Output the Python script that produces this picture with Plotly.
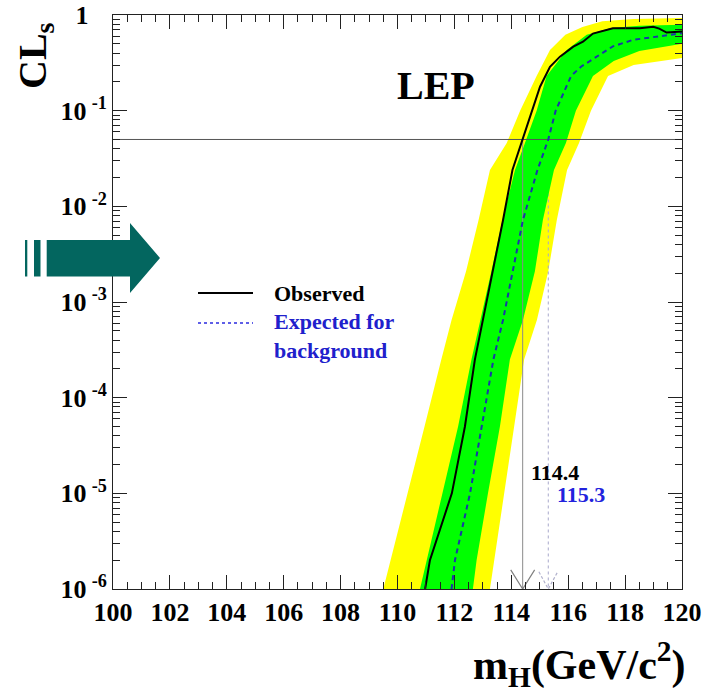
import math
import plotly.graph_objects as go

# ---------------- data ----------------
# 95% CL exclusion: CLs versus Higgs mass (GeV/c^2)
obs_mass = [110.97, 111.14, 111.91, 112.37, 112.72, 113.0, 113.36, 113.71, 114.04,
            114.4, 114.72, 115.01, 115.36, 115.71, 116.18, 116.52, 116.87, 117.12,
            117.57, 118.06, 118.52, 118.99, 119.2, 119.46, 119.93, 120.0]
obs_cls = [1.0e-6, 2.0e-6, 1.0e-5, 5.0e-5, 2.5e-4, 6.5e-4, 2.1e-3, 7.2e-3, 0.024,
           0.05, 0.10, 0.178, 0.288, 0.367, 0.466, 0.526, 0.64, 0.67,
           0.726, 0.726, 0.726, 0.755, 0.72, 0.655, 0.67, 0.672]

exp_mass = [111.9, 112.02, 112.55, 112.96, 113.37, 113.71, 114.06, 114.41, 114.92,
            115.3, 115.56, 116.1, 116.45, 117.0, 117.57, 118.28, 118.98, 120.0]
exp_cls = [1.0e-6, 2.0e-6, 1.0e-5, 5.0e-5, 2.5e-4, 6.5e-4, 2.1e-3, 7.2e-3, 0.024,
           0.05, 0.10, 0.23, 0.288, 0.367, 0.47, 0.55, 0.59, 0.645]

# +/-2 sigma band: high-CLs edge and low-CLs edge
band2_hi_mass = [109.5, 109.76, 110.36, 110.95, 111.54, 111.9, 112.41, 112.85, 113.25,
                 113.84, 114.31, 114.89, 115.36, 115.9, 116.5, 117.2, 118.3, 120.0]
band2_hi_cls = [1.0e-6, 2.0e-6, 1.0e-5, 5.0e-5, 2.5e-4, 6.5e-4, 2.1e-3, 7.2e-3, 0.024,
                0.046, 0.10, 0.23, 0.43, 0.62, 0.75, 0.86, 0.91, 0.93]
band2_lo_mass = [113.25, 113.38, 113.75, 114.1, 114.45, 114.9, 115.3, 115.6, 115.96,
                 116.38, 116.8, 117.4, 118.3, 120.0]
band2_lo_cls = [1.0e-6, 2.0e-6, 1.0e-5, 5.0e-5, 2.5e-4, 6.5e-4, 2.1e-3, 7.2e-3, 0.024,
                0.046, 0.10, 0.23, 0.30, 0.355]

# +/-1 sigma band
band1_hi_mass = [110.79, 111.03, 111.6, 112.13, 112.6, 112.92, 113.3, 113.69, 114.13,
                 114.48, 114.89, 115.24, 115.95, 116.65, 117.5, 118.5, 120.0]
band1_hi_cls = [1.0e-6, 2.0e-6, 1.0e-5, 5.0e-5, 2.5e-4, 6.5e-4, 2.1e-3, 7.2e-3, 0.024,
                0.046, 0.10, 0.23, 0.43, 0.62, 0.73, 0.77, 0.79]
band1_lo_mass = [112.65, 112.78, 113.18, 113.6, 113.95, 114.41, 114.83, 115.11, 115.5,
                 115.92, 116.27, 116.87, 117.6, 118.5, 120.0]
band1_lo_cls = [1.0e-6, 2.0e-6, 1.0e-5, 5.0e-5, 2.5e-4, 6.5e-4, 2.1e-3, 7.2e-3, 0.024,
                0.046, 0.10, 0.23, 0.33, 0.42, 0.50]

cl_level = 0.05
obs_limit = 114.4
exp_limit = 115.3

x_ticks = [100, 102, 104, 106, 108, 110, 112, 114, 116, 118, 120]
y_ticks = [1e-6, 1e-5, 1e-4, 1e-3, 1e-2, 1e-1, 1]
y_exponents = ["-6", "-5", "-4", "-3", "-2", "-1"]
y_ticktext = ["10\u2009<sup>%s</sup>" % e for e in y_exponents] + ["1\u2007\u2009"]

# ---------------- layout geometry (pixels) ----------------
W, H = 713, 694
L, R, T, B = 113, 682, 15, 589
SERIF = "Liberation Serif, Times New Roman, serif"


def px(x):
    return (x - L) / (R - L)


def py(y):
    return 1 - (y - T) / (B - T)


fig = go.Figure()

# bands: high edge going up, low edge coming back down
fig.add_trace(go.Scatter(
    x=band2_hi_mass + band2_lo_mass[::-1], y=band2_hi_cls + band2_lo_cls[::-1],
    fill="toself", fillcolor="#ffff00", line=dict(width=0), mode="lines",
    hoverinfo="skip", showlegend=False))

# expected-limit marker line sits under the green band
fig.add_trace(go.Scatter(
    x=[exp_limit, exp_limit], y=[cl_level, y_ticks[0]], mode="lines",
    line=dict(color="#a8a8cc", width=1, dash="3px,3px"), showlegend=False))

fig.add_trace(go.Scatter(
    x=band1_hi_mass + band1_lo_mass[::-1], y=band1_hi_cls + band1_lo_cls[::-1],
    fill="toself", fillcolor="#00ff00", line=dict(width=0), mode="lines",
    hoverinfo="skip", showlegend=False))

# CL = 0.05 reference line
fig.add_trace(go.Scatter(
    x=[x_ticks[0], x_ticks[-1]], y=[cl_level, cl_level], mode="lines",
    line=dict(color="#555555", width=1), showlegend=False))

# observed-limit marker line
fig.add_trace(go.Scatter(
    x=[obs_limit, obs_limit], y=[cl_level, y_ticks[0]], mode="lines",
    line=dict(color="#8a8a8a", width=1), showlegend=False))

# V-shaped arrow heads at the axis
bottom = y_ticks[0]
fig.add_trace(go.Scatter(
    x=[obs_limit - 0.42, obs_limit, obs_limit + 0.42],
    y=[bottom * 10 ** 0.2, bottom, bottom * 10 ** 0.2], mode="lines",
    line=dict(color="#808080", width=1.2), showlegend=False))
fig.add_trace(go.Scatter(
    x=[exp_limit - 0.33, exp_limit, exp_limit + 0.33],
    y=[bottom * 10 ** 0.18, bottom, bottom * 10 ** 0.18], mode="lines",
    line=dict(color="#b0b0cc", width=1.2, dash="3px,2px"), showlegend=False))

# expected and observed CLs
fig.add_trace(go.Scatter(
    x=exp_mass, y=exp_cls, mode="lines",
    line=dict(color="#1a36a8", width=2, dash="5px,4px"), showlegend=False))
fig.add_trace(go.Scatter(
    x=obs_mass, y=obs_cls, mode="lines",
    line=dict(color="#000000", width=2), showlegend=False))

# ---------------- axes ----------------
axis_common = dict(showline=True, linecolor="#222222", linewidth=1, mirror="ticks",
                   ticks="inside", tickcolor="#222222", showgrid=False, zeroline=False,
                   automargin=False,
                   tickfont=dict(family=SERIF, size=26, color="#000000", weight="bold"))
fig.update_xaxes(range=[x_ticks[0], x_ticks[-1]], tickvals=x_ticks, ticklen=14,
                 minor=dict(dtick=0.5, tick0=100, ticks="inside", ticklen=7,
                            tickcolor="#222222", showgrid=False),
                 **axis_common)
fig.update_yaxes(type="log", range=[-6, 0], tickvals=y_ticks, ticktext=y_ticktext,
                 ticklen=14,
                 minor=dict(dtick="D1", ticks="inside", ticklen=7,
                            tickcolor="#222222", showgrid=False),
                 **axis_common)

# ---------------- texts ----------------
ann = []
ann.append(dict(text="LEP", x=px(436), y=py(86), xref="paper", yref="paper",
                showarrow=False, xanchor="center", yanchor="middle",
                font=dict(family=SERIF, size=40, color="#000000", weight="bold")))
ann.append(dict(text="CL<sub>s</sub>", x=px(35), y=py(56), xref="paper", yref="paper",
                showarrow=False, xanchor="center", yanchor="middle", textangle=-90,
                font=dict(family=SERIF, size=40, color="#000000", weight="bold")))
ann.append(dict(text="m<sub>H</sub>(GeV/c<sup>2</sup>)", x=px(688), y=py(664),
                xref="paper", yref="paper", showarrow=False, xanchor="right",
                yanchor="middle",
                font=dict(family=SERIF, size=42, color="#000000", weight="bold")))
ann.append(dict(text=f"{obs_limit}", x=obs_limit, y=math.log10(cl_level) - (473 - 140) / 95.7,
                xref="x", yref="y", xshift=6, showarrow=False, xanchor="left",
                yanchor="middle",
                font=dict(family=SERIF, size=22, color="#000000", weight="bold")))
ann.append(dict(text=f"{exp_limit}", x=exp_limit, y=math.log10(cl_level) - (495 - 140) / 95.7,
                xref="x", yref="y", xshift=7, showarrow=False, xanchor="left",
                yanchor="middle",
                font=dict(family=SERIF, size=22, color="#2222dd", weight="bold")))

# legend
ann.append(dict(text="Observed", x=px(272), y=py(293), xref="paper", yref="paper",
                showarrow=False, xanchor="left", yanchor="middle",
                font=dict(family=SERIF, size=22, color="#000000", weight="bold")))
ann.append(dict(text="Expected for<br>background", x=px(272), y=py(336), xref="paper",
                yref="paper", showarrow=False, xanchor="left", yanchor="middle",
                align="left",
                font=dict(family=SERIF, size=22, color="#2020cc", weight="bold")))

shapes = [
    dict(type="line", xref="paper", yref="paper", x0=px(198), x1=px(253),
         y0=py(293), y1=py(293), line=dict(color="#000000", width=2)),
    dict(type="line", xref="paper", yref="paper", x0=px(198), x1=px(253),
         y0=py(323), y1=py(323), line=dict(color="#2a2ae0", width=1.5, dash="3px,3px")),
]

# teal pointer arrow over the left axis
arrow_pts = [(46.7, 240), (130, 240), (130, 223), (160, 258), (130, 293),
             (130, 276.5), (46.7, 276.5)]
arrow_path = "M " + " L ".join(f"{px(a):.5f},{py(b):.5f}" for a, b in arrow_pts) + " Z"
shapes.append(dict(type="path", xref="paper", yref="paper", path=arrow_path,
                   fillcolor="#03665f", line=dict(width=0), layer="above"))
for x0, x1 in [(25, 27.3), (34, 40.5)]:
    shapes.append(dict(type="rect", xref="paper", yref="paper", x0=px(x0), x1=px(x1),
                       y0=py(240), y1=py(276.5), fillcolor="#03665f",
                       line=dict(width=0), layer="above"))

fig.update_layout(
    width=W, height=H,
    margin=dict(l=L, r=W - R, t=T, b=H - B, autoexpand=False),
    paper_bgcolor="white", plot_bgcolor="white",
    annotations=ann, shapes=shapes, showlegend=False,
)

fig.write_html("out.html")
